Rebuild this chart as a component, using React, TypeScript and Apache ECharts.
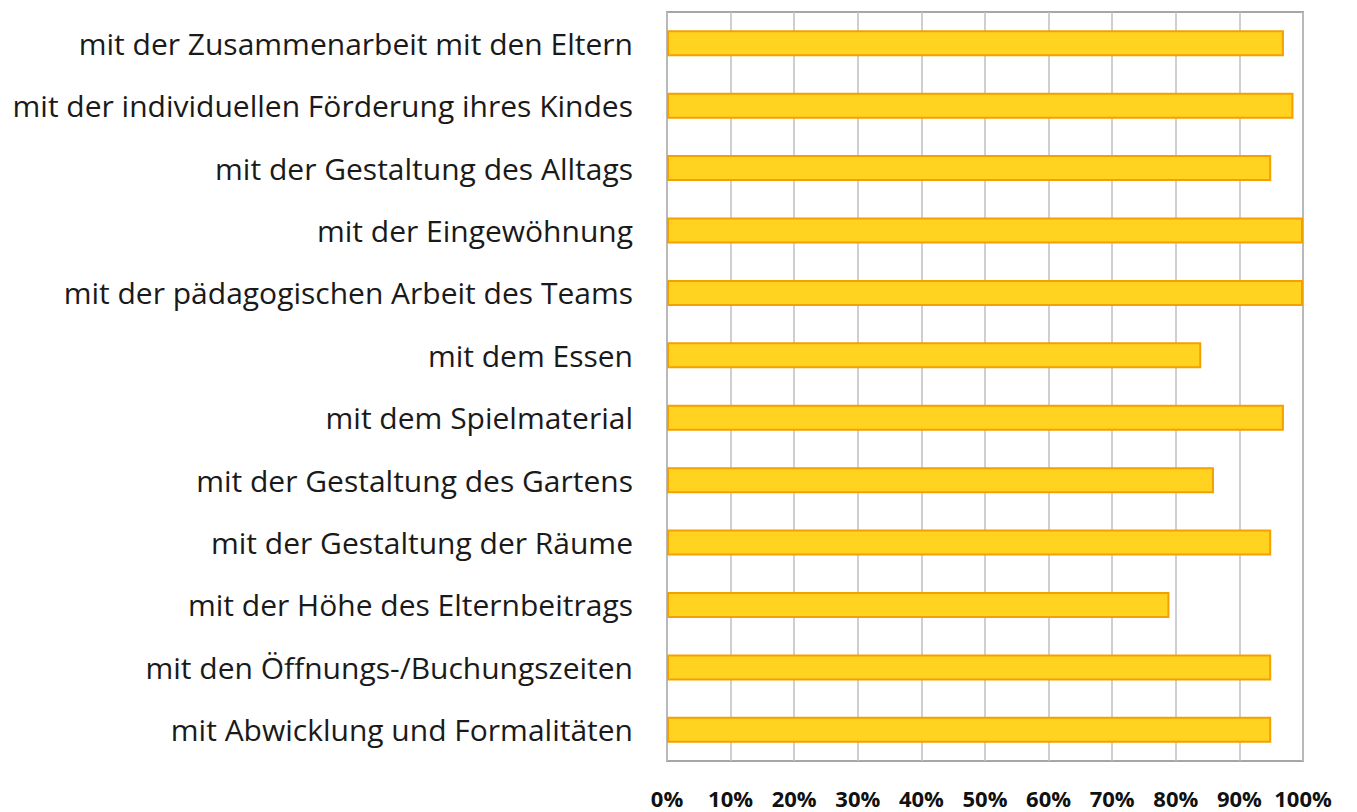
import React, { useEffect, useRef } from "react";
import * as echarts from "echarts";

const categories = [
  "mit der Zusammenarbeit mit den Eltern",
  "mit der individuellen Förderung ihres Kindes",
  "mit der Gestaltung des Alltags",
  "mit der Eingewöhnung",
  "mit der pädagogischen Arbeit des Teams",
  "mit dem Essen",
  "mit dem Spielmaterial",
  "mit der Gestaltung des Gartens",
  "mit der Gestaltung der Räume",
  "mit der Höhe des Elternbeitrags",
  "mit den Öffnungs-/Buchungszeiten",
  "mit Abwicklung und Formalitäten",
];

const values = [97, 98.5, 95, 100, 100, 84, 97, 86, 95, 79, 95, 95];

const tickValues = [0, 10, 20, 30, 40, 50, 60, 70, 80, 90, 100];

export default function App() {
  const ref = useRef<HTMLDivElement>(null);
  useEffect(() => {
    if (!ref.current) return;
    const chart = echarts.init(ref.current, null, { renderer: "svg" });
    chart.setOption({
      animation: false,
      backgroundColor: "#ffffff",
      grid: {
        left: 667,
        right: 54,
        top: 12,
        bottom: 51,
        containLabel: false,
        show: true,
        borderColor: "#a6a6a6",
        borderWidth: 2,
      },
      xAxis: {
        type: "value",
        min: 0,
        max: 100,
        interval: 10,
        axisLine: { show: false },
        axisTick: { show: false },
        splitLine: { show: true, lineStyle: { color: "#bfbfbf", width: 1.5 } },
        axisLabel: {
          margin: 26,
          fontFamily: "Open Sans",
          fontWeight: "bold",
          fontSize: 22,
          lineHeight: 22,
          color: "#111",
          formatter: (v: number) => (tickValues.includes(v) ? v + "%" : ""),
        },
      },
      yAxis: {
        type: "category",
        data: categories,
        inverse: true,
        axisLine: { show: false },
        axisTick: { show: false },
        splitLine: { show: false },
        axisLabel: {
          margin: 34,
          fontFamily: "Open Sans",
          fontSize: 30,
          color: "#1a1a1a",
        },
      },
      series: [
        {
          type: "bar",
          data: values,
          barWidth: 26,
          itemStyle: {
            color: "#FFD320",
            borderColor: "#F5A000",
            borderWidth: 2,
          },
        },
      ],
    });
    return () => chart.dispose();
  }, []);
  return (
    <div
      ref={ref}
      style={{ position: "absolute", left: 0, top: 0, width: 1357, height: 812 }}
    />
  );
}
